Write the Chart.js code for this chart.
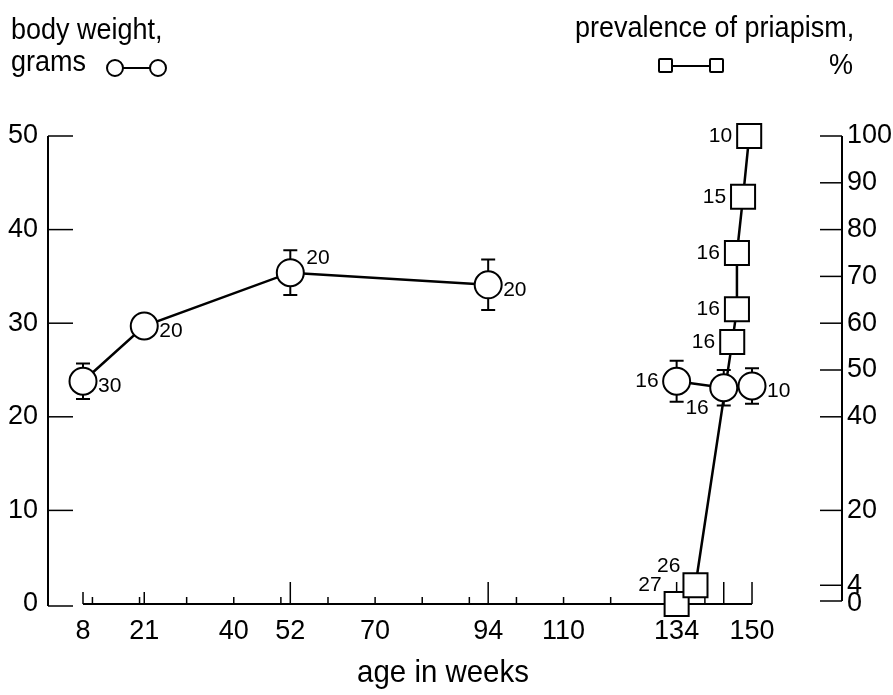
<!DOCTYPE html>
<html lang="en">
<head>
<meta charset="utf-8">
<title>body weight and priapism</title>
<script src="https://cdn.jsdelivr.net/npm/chart.js@4.4.1/dist/chart.umd.min.js"></script>
<style>
  body { margin: 0; background: #fff; }
  #caja { position: relative; width: 893px; height: 695px; overflow: hidden; }
  #grafico { position: absolute; left: 0; top: 0; }
  .txt { position: absolute; font-family: "Liberation Sans", Arial, sans-serif; font-size: 30px; line-height: 1; color: #000; white-space: nowrap; transform: scaleX(0.9); transform-origin: left top; }
  .circ { position: absolute; width: 14px; height: 14px; border: 2px solid #000; border-radius: 50%; background: #fff; }
  .cuad { position: absolute; width: 11px; height: 11px; border: 2px solid #000; border-radius: 2px; background: #fff; }
  .raya { position: absolute; height: 2px; background: #000; }
</style>
</head>
<body>
<div id="caja">
  <canvas id="grafico" width="893" height="695"></canvas>
  <div class="txt" style="left:11px; top:14px">body weight,</div>
  <div class="txt" style="left:11px; top:46px">grams</div>
  <span class="raya" style="left:122px; top:67px; width:28px"></span>
  <span class="circ" style="left:106px; top:59px"></span>
  <span class="circ" style="left:149px; top:59px"></span>
  <div class="txt" style="left:575px; top:12px">prevalence of priapism,</div>
  <span class="raya" style="left:672px; top:65px; width:38px"></span>
  <span class="cuad" style="left:658px; top:58px"></span>
  <span class="cuad" style="left:709px; top:58px"></span>
  <div class="txt" style="left:829px; top:49px">%</div>
  <div class="txt" style="left:0; top:655px; width:886px; text-align:center; font-size:32px; transform:scaleX(0.92); transform-origin:center top">age in weeks</div>
</div>

<script>
// peso corporal (g) por edad en semanas
const bwAge = [8, 21, 52, 94, 134, 144, 150];
const bwMean = [23.8, 29.7, 35.4, 34.1, 23.8, 23.1, 23.3];
const bwSD = [1.9, 0, 2.4, 2.7, 2.2, 1.9, 1.9];
const bwN = [30, 20, 20, 20, 16, 16, 10];
const bwGapAfter = 3; // sin linea entre 94 y 134 semanas

// prevalencia de priapismo (%)
const prAge = [134, 138, 145.8, 146.8, 146.8, 148.1, 149.4];
const prPct = [0, 4, 56, 63, 75, 87, 100];
const prN = [27, 26, 16, 16, 16, 15, 10];

// ejes
const xTicks = [8, 21, 40, 52, 70, 94, 110, 134, 150];
const leftTicks = [0, 10, 20, 30, 40, 50];
const rightTicks = [0, 4, 20, 40, 50, 60, 70, 80, 90, 100];
const xMarksTall = [52, 94, 134, 140, 144, 150];
const xMarksMid = [8, 21];
const xMarksSmall = [10, 20, 30, 40, 50, 60, 70, 80, 90, 100, 110, 120];

// donde va el numero n de cada punto
const bwLabelPos = ["r", "r", "ur", "r", "l", "bl", "r"];
const prLabelPos = ["ul", "ul", "l", "l", "l", "l", "l"];

const fuente = '"Liberation Sans", Arial, sans-serif';

const dibujo = {
  id: "dibujo",
  beforeDatasetsDraw(chart) {
    const { ctx, chartArea } = chart;
    const xs = chart.scales.x, yl = chart.scales.y, yr = chart.scales.y2;
    ctx.save();
    ctx.strokeStyle = "#000";
    ctx.lineCap = "butt";

    // eje izquierdo
    ctx.lineWidth = 2;
    ctx.beginPath();
    ctx.moveTo(chartArea.left, yl.getPixelForValue(50));
    ctx.lineTo(chartArea.left, yl.getPixelForValue(0) + 2);
    ctx.stroke();
    ctx.lineWidth = 1.5;
    leftTicks.forEach(v => {
      const y = yl.getPixelForValue(v) + (v === 0 ? 2 : 0);
      ctx.beginPath();
      ctx.moveTo(chartArea.left, y);
      ctx.lineTo(chartArea.left + 25, y);
      ctx.stroke();
    });

    // eje derecho
    ctx.lineWidth = 2;
    ctx.beginPath();
    ctx.moveTo(chartArea.right, yr.getPixelForValue(100));
    ctx.lineTo(chartArea.right, yr.getPixelForValue(0) - 3);
    ctx.stroke();
    ctx.lineWidth = 1.5;
    rightTicks.forEach(v => {
      const y = yr.getPixelForValue(v) - (v === 0 ? 3 : 0);
      ctx.beginPath();
      ctx.moveTo(chartArea.right - 22, y);
      ctx.lineTo(chartArea.right, y);
      ctx.stroke();
    });

    // eje x
    const y0 = yl.getPixelForValue(0);
    ctx.lineWidth = 2;
    ctx.beginPath();
    ctx.moveTo(xs.getPixelForValue(8), y0);
    ctx.lineTo(xs.getPixelForValue(150), y0);
    ctx.stroke();
    ctx.lineWidth = 1.5;
    const marca = (lista, alto) => lista.forEach(v => {
      const x = xs.getPixelForValue(v);
      ctx.beginPath();
      ctx.moveTo(x, y0);
      ctx.lineTo(x, y0 - alto);
      ctx.stroke();
    });
    marca(xMarksTall, 22);
    marca(xMarksMid, 12);
    marca(xMarksSmall, 7);

    // barras de error
    ctx.lineWidth = 2;
    bwAge.forEach((a, i) => {
      if (!bwSD[i]) return;
      const x = xs.getPixelForValue(a);
      const yt = yl.getPixelForValue(bwMean[i] + bwSD[i]);
      const yb = yl.getPixelForValue(bwMean[i] - bwSD[i]);
      ctx.beginPath();
      ctx.moveTo(x, yt); ctx.lineTo(x, yb);
      ctx.moveTo(x - 7, yt); ctx.lineTo(x + 7, yt);
      ctx.moveTo(x - 7, yb); ctx.lineTo(x + 7, yb);
      ctx.stroke();
    });
    ctx.restore();
  },
  afterDatasetsDraw(chart) {
    const { ctx } = chart;
    const xs = chart.scales.x, yl = chart.scales.y, yr = chart.scales.y2;
    ctx.save();
    ctx.fillStyle = "#000";
    ctx.font = "21px " + fuente;
    ctx.textBaseline = "middle";
    const poner = (txt, x, y, pos, r) => {
      let dx = 0, dy = 0;
      if (pos === "r") { ctx.textAlign = "left"; dx = r + 2; dy = 5; }
      if (pos === "ur") { ctx.textAlign = "left"; dx = r + 3; dy = -14; }
      if (pos === "l") { ctx.textAlign = "right"; dx = -(r + 5); dy = 0; }
      if (pos === "bl") { ctx.textAlign = "right"; dx = -(r + 2); dy = 20; }
      if (pos === "ul") { ctx.textAlign = "right"; dx = -(r + 3); dy = -19; }
      ctx.fillText(String(txt), x + dx, y + dy);
    };
    bwAge.forEach((a, i) => poner(bwN[i], xs.getPixelForValue(a), yl.getPixelForValue(bwMean[i]), bwLabelPos[i], 13));
    prAge.forEach((a, i) => poner(prN[i], xs.getPixelForValue(a), yr.getPixelForValue(prPct[i]), prLabelPos[i], 12));
    ctx.restore();
  }
};

const ctx = document.getElementById("grafico");

new Chart(ctx, {
  type: "line",
  data: {
    datasets: [{
      label: "body weight, grams",
      data: bwAge.map((a, i) => ({ x: a, y: bwMean[i] })),
      yAxisID: "y",
      borderColor: "#000",
      borderWidth: 2.5,
      pointStyle: "circle",
      pointRadius: 13.5,
      pointBorderWidth: 2,
      pointBackgroundColor: "#fff",
      pointBorderColor: "#000",
      clip: false,
      segment: {
        borderColor: c => c.p0DataIndex === bwGapAfter ? "rgba(0,0,0,0)" : "#000"
      }
    }, {
      label: "prevalence of priapism, %",
      data: prAge.map((a, i) => ({ x: a, y: prPct[i] })),
      yAxisID: "y2",
      borderColor: "#000",
      borderWidth: 2.5,
      pointStyle: "rect",
      pointRadius: 17,
      pointBorderWidth: 2,
      pointBackgroundColor: "#fff",
      pointBorderColor: "#000",
      clip: false
    }]
  },
  options: {
    responsive: false,
    animation: false,
    events: [],
    layout: { padding: { top: 136, left: 0, right: 0, bottom: 0 } },
    plugins: { legend: { display: false }, tooltip: { enabled: false } },
    scales: {
      x: {
        type: "linear",
        min: 0.57,
        max: 169.1,
        grid: { display: false, drawTicks: false },
        border: { display: false },
        afterBuildTicks: s => { s.ticks = xTicks.map(v => ({ value: v })); },
        afterFit: s => { s.height = 91; },
        ticks: { color: "#000", padding: 11, maxRotation: 0, autoSkip: false, font: { family: fuente, size: 27 } }
      },
      y: {
        position: "left",
        min: 0,
        max: 50,
        grid: { display: false, drawTicks: false },
        border: { display: false },
        afterBuildTicks: s => { s.ticks = leftTicks.map(v => ({ value: v })); },
        afterFit: s => { s.width = 48; },
        ticks: { color: "#000", padding: 10, font: { family: fuente, size: 27 } }
      },
      y2: {
        position: "right",
        min: 0,
        max: 100,
        grid: { display: false, drawTicks: false },
        border: { display: false },
        afterBuildTicks: s => { s.ticks = rightTicks.map(v => ({ value: v })); },
        afterFit: s => { s.width = 51; },
        ticks: { color: "#000", padding: 5, font: { family: fuente, size: 27 } }
      }
    }
  },
  plugins: [dibujo]
});
</script>
</body>
</html>
